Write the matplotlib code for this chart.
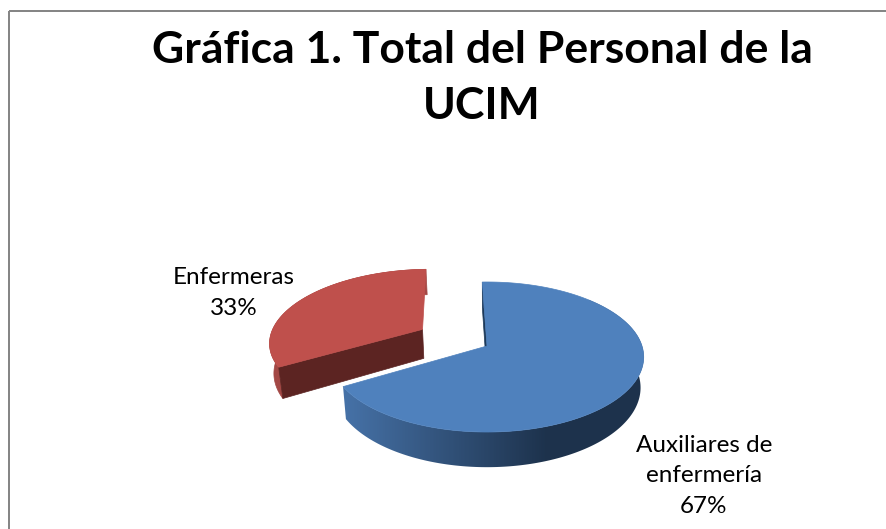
import numpy as np
import matplotlib
matplotlib.use("Agg")
import matplotlib.pyplot as plt
from matplotlib.colors import LinearSegmentedColormap
from matplotlib.patches import Polygon, Rectangle

plt.rcParams["font.family"] = ["Lato", "DejaVu Sans"]

title = "Gráfica 1. Total del Personal de la\nUCIM"
categories = ["Auxiliares de\nenfermería", "Enfermeras"]
values = [67, 33]

# ── view of the pie disc, all in image pixels ──
CX, CY = 487, 346
RX, RY = 155, 73.4
PERSP = 0.1467
DEPTH = 30
BOTTOM_SCALE = 0.98
START = -2
EXPLODE = 0.49

BLUE_TOP, BLUE_WALL = "#4f81bd", "#1d3a5a"
BLUE_LIGHT, BLUE_DARK = "#4773a9", "#1d324c"
RED_TOP, RED_WALL = "#bf504c", "#5c2422"
RED_SIDE = "#a34845"


def project(theta, shift=(0, 0), low=False):
    # disc coords -> image pixels, with a little perspective
    t = np.radians(theta)
    u = np.sin(t) + shift[0]
    v = -np.cos(t) + shift[1]
    w = 1 - PERSP * v
    x = RX * u / w
    y = CY + RY * v / w
    if low:
        x = x * BOTTOM_SCALE
        y = y + DEPTH / w
    return CX + x, y


def apex(shift=(0, 0), low=False):
    w = 1 - PERSP * shift[1]
    x = RX * shift[0] / w
    y = CY + RY * shift[1] / w
    if low:
        x = x * BOTTOM_SCALE
        y = y + DEPTH / w
    return CX + x, y


fig = plt.figure(figsize=(8.86, 5.29), dpi=100)
ax = fig.add_axes([0, 0, 1, 1])

total = sum(values)
sweep = [360 * v / total for v in values]
blue_a, blue_b = START, START + sweep[0]
red_a, red_b = blue_b, blue_b + sweep[1]

# ── red slice, pulled out along its bisector ──
mid = np.radians((red_a + red_b) / 2)
shift = (EXPLODE * np.sin(mid), -EXPLODE * np.cos(mid))
th = np.linspace(red_a, red_b, 120)

top_x, top_y = project(th, shift)
low_x, low_y = project(th, shift, low=True)
ax.add_patch(Polygon(np.r_[np.c_[top_x, top_y], np.c_[low_x, low_y][::-1]],
                     facecolor=RED_SIDE, edgecolor=RED_SIDE, linewidth=0.5, zorder=1))
wall = [apex(shift), (top_x[0], top_y[0]), (low_x[0], low_y[0]), apex(shift, low=True)]
ax.add_patch(Polygon(wall, facecolor=RED_WALL, edgecolor=RED_WALL, linewidth=0.5, zorder=2))
ax.add_patch(Polygon(np.r_[[apex(shift)], np.c_[top_x, top_y]],
                     facecolor=RED_TOP, edgecolor=RED_TOP, linewidth=0.5, zorder=3))

# ── blue slice ──
th = np.linspace(blue_a, blue_b, 240)
top_x, top_y = project(th)
low_x, low_y = project(th, low=True)

wall = [apex(), (top_x[0], top_y[0]), (low_x[0], low_y[0]), apex(low=True)]
ax.add_patch(Polygon(wall, facecolor=BLUE_WALL, edgecolor=BLUE_WALL, linewidth=0.5, zorder=4))

# outer side: left-to-right shading clipped to the rim shape, flat dark past x=548
rim = Polygon(np.r_[np.c_[top_x, top_y], np.c_[low_x, low_y][::-1]], transform=ax.transData,
              facecolor="none", edgecolor="none")
ax.add_patch(rim)
ramp_end = (548 - 340) / (660 - 340)
shade = LinearSegmentedColormap.from_list(
    "rim", [(0, BLUE_LIGHT), (ramp_end, BLUE_DARK), (1, BLUE_DARK)])
im = ax.imshow(np.linspace(0, 1, 320)[None, :], cmap=shade, aspect="auto",
               extent=(340, 660, 480, 300), zorder=5)
im.set_clip_path(rim)

ax.add_patch(Polygon(np.r_[[apex()], np.c_[top_x, top_y]],
                     facecolor=BLUE_TOP, edgecolor=BLUE_TOP, linewidth=0.5, zorder=6))

ax.set_xlim(0, 886)
ax.set_ylim(529, 0)
ax.axis("off")

ax.add_patch(Rectangle((9, 11), 900, 540, fill=False, edgecolor="#868686", linewidth=1.44))

# ── text ──
ax.text(482, 78, title, fontsize=32, fontweight="bold", color="black",
        ha="center", va="center", linespacing=1.46)
ax.text(704, 476, f"{categories[0]}\n{values[0]}%", fontsize=17.5, color="black",
        ha="center", va="center", linespacing=1.56)
ax.text(234, 293, f"{categories[1]}\n{values[1]}%", fontsize=17.5, color="black",
        ha="center", va="center", linespacing=1.56)

fig.savefig("out.png", dpi=100)
